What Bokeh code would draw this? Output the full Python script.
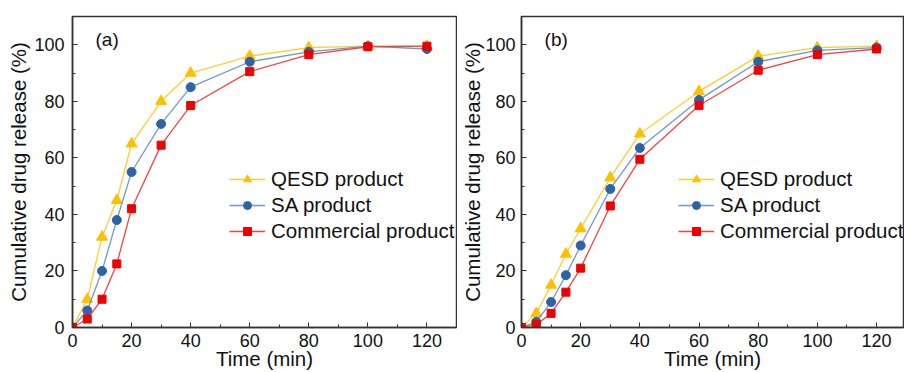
from bokeh.plotting import figure
from bokeh.models import (Range1d, SingleIntervalTicker, Legend, LegendItem, Label)
from bokeh.layouts import row
from bokeh.embed import file_html
from bokeh.resources import INLINE

time_min = [0, 5, 10, 15, 20, 30, 40, 60, 80, 100, 120]

a_qesd = [0, 10, 32, 45, 65, 80, 90, 96, 99, 99.5, 99.5]
a_sa = [0, 6, 20, 38, 55, 72, 85, 94, 97.5, 99.5, 98.5]
a_comm = [0, 3, 10, 22.5, 42, 64.5, 78.5, 90.5, 96.5, 99.3, 99.5]

b_qesd = [0, 5, 15, 26, 35, 53, 68.5, 83.5, 96, 99, 99.5]
b_sa = [0, 2, 9, 18.5, 29, 49, 63.5, 80.5, 94, 98, 99]
b_comm = [0, 1, 5, 12.5, 21, 43, 59.5, 78.5, 91, 96.5, 98.5]

names = ["QESD product", "SA product", "Commercial product"]
panel_labels = ["(a)", "(b)"]

FONT = "Liberation Sans"
COL_Q_M, COL_Q_L = "#FFC000", "#FFCC33"
COL_S_M, COL_S_L = "#2E63A8", "#6F98CC"
COL_C_M, COL_C_L = "#EE0000", "#F24444"


def make_panel(qesd, sa, comm, tag, width, xend, left, ylab_standoff, ytick_standoff):
    p = figure(width=width, height=372, output_backend="svg", toolbar_location=None,
               x_range=Range1d(0, xend), y_range=Range1d(0, 110),
               min_border_left=left, min_border_right=1, min_border_top=16,
               min_border_bottom=45)
    p.grid.visible = False
    p.outline_line_color = "#333333"
    p.outline_line_width = 1.5
    p.background_fill_color = "white"
    p.border_fill_color = "white"

    p.xaxis.ticker = SingleIntervalTicker(interval=20, num_minor_ticks=2)
    p.yaxis.ticker = SingleIntervalTicker(interval=20, num_minor_ticks=2)
    for ax in (p.xaxis[0], p.yaxis[0]):
        ax.axis_line_color = "#333333"
        ax.axis_line_width = 1.5
        ax.major_tick_in = 5
        ax.major_tick_out = 0
        ax.minor_tick_in = 3
        ax.minor_tick_out = 0
        ax.major_tick_line_color = "#333333"
        ax.minor_tick_line_color = "#333333"
        ax.major_label_text_font = FONT
        ax.major_label_text_font_size = "18px"
        ax.major_label_text_color = "#111111"
        ax.axis_label_text_font = FONT
        ax.axis_label_text_font_size = "20.5px"
        ax.axis_label_text_font_style = "normal"
        ax.axis_label_text_color = "#111111"
    p.xaxis.axis_label_standoff = -3
    p.xaxis.major_label_standoff = 6
    p.yaxis.axis_label_standoff = ylab_standoff
    p.yaxis.major_label_standoff = ytick_standoff
    p.xaxis.axis_label = "Time (min)"
    p.yaxis.axis_label = "Cumulative drug release (%)"

    lq = p.line(time_min, qesd, line_color=COL_Q_L, line_width=1.3)
    mq = p.scatter(time_min, qesd, marker="triangle", size=11, fill_color=COL_Q_M,
                   line_color=COL_Q_M)
    ls = p.line(time_min, sa, line_color=COL_S_L, line_width=1.3)
    ms = p.scatter(time_min, sa, marker="circle", size=9, fill_color=COL_S_M,
                   line_color=COL_S_M)
    lc = p.line(time_min, comm, line_color=COL_C_L, line_width=1.3)
    mc = p.scatter(time_min, comm, marker="square", size=8, fill_color=COL_C_M,
                   line_color=COL_C_M)

    legend = Legend(items=[
        LegendItem(label=names[0], renderers=[lq, mq]),
        LegendItem(label=names[1], renderers=[ls, ms]),
        LegendItem(label=names[2], renderers=[lc, mc]),
    ], location=(157, 84), margin=0, padding=0, spacing=2,
        glyph_width=36, glyph_height=20, label_height=20, label_standoff=6,
        border_line_color=None, background_fill_alpha=0,
        label_text_font=FONT, label_text_font_size="20.5px", label_text_color="#111111")
    p.add_layout(legend)

    p.add_layout(Label(x=7.8, y=102, text=tag, text_font=FONT, text_font_size="19px",
                       text_baseline="middle", text_color="#111111"))
    return p


pa = make_panel(a_qesd, a_sa, a_comm, panel_labels[0], 457, 130, 72, 1, 8)
pb = make_panel(b_qesd, b_sa, b_comm, panel_labels[1], 447, 129.1, 64, -2, 6)

layout = row(pa, pb, spacing=0)
open("out.html", "w").write(file_html(layout, INLINE))
